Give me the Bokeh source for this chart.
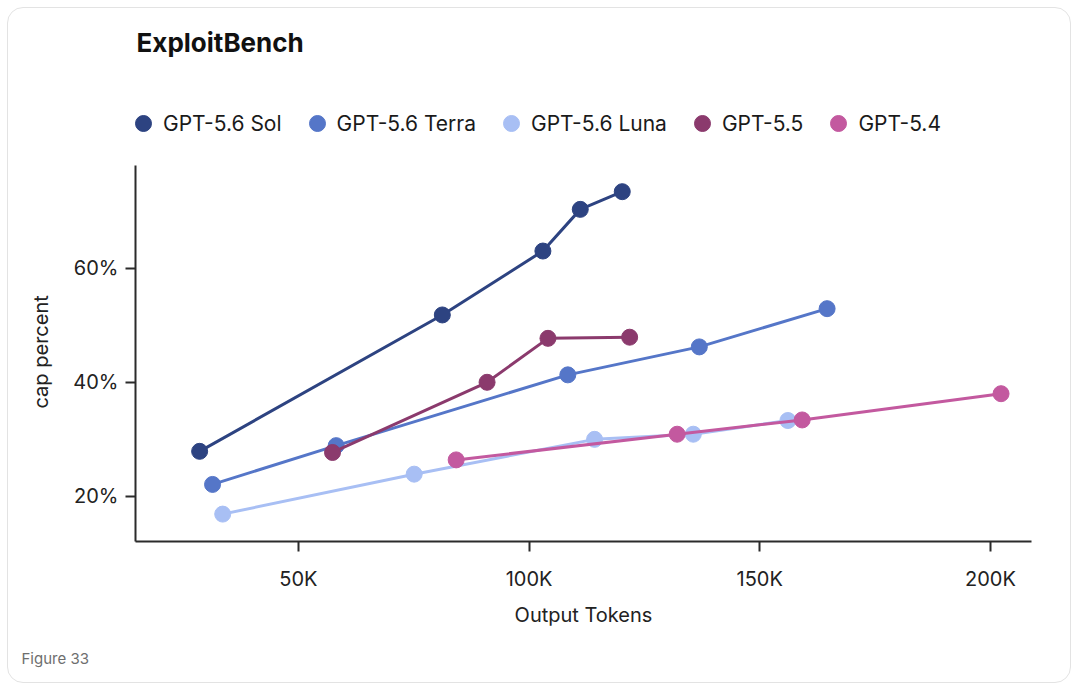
from bokeh.plotting import figure
from bokeh.models import (Legend, LegendItem, Title, Label, FixedTicker, PrintfTickFormatter,
                          CustomJSTickFormatter, ColumnDataSource)
from bokeh.embed import file_html
from bokeh.resources import INLINE

# ---- data ----
series_names = ["GPT-5.6 Sol", "GPT-5.6 Terra", "GPT-5.6 Luna", "GPT-5.5", "GPT-5.4"]
series_colors = ["#2d4381", "#5576c8", "#a8bff4", "#8b3a6d", "#c3599f"]

sol_x = [28600, 81200, 103000, 111100, 120200]
sol_y = [27.9, 51.8, 63.0, 70.3, 73.4]
terra_x = [31400, 58200, 108400, 136900, 164600]
terra_y = [22.1, 28.9, 41.3, 46.2, 52.9]
luna_x = [33600, 75100, 114200, 135600, 156100]
luna_y = [16.9, 23.9, 30.0, 30.9, 33.3]
gpt55_x = [57400, 90900, 104100, 121800]
gpt55_y = [27.7, 40.0, 47.7, 47.9]
gpt54_x = [84200, 132100, 159200, 202300]
gpt54_y = [26.4, 30.9, 33.4, 38.0]

x_ticks = [50000, 100000, 150000, 200000]
y_ticks = [20, 40, 60]
y_axis_extent = (12.1, 78.0)   # the drawn extent of the y axis

title_text = "ExploitBench"
x_label = "Output Tokens"
y_label = "cap percent"
caption = "Figure 33"

series_x = [sol_x, terra_x, luna_x, gpt55_x, gpt54_x]
series_y = [sol_y, terra_y, luna_y, gpt55_y, gpt54_y]

FONT = "Inter"

# the plotting frame reaches up to the top of the card so that the title and
# legend (drawn inside it) are not clipped; the y axis line is bounded.
p = figure(width=1064, height=676, margin=7,
           x_range=(14700, 208900), y_range=(12.1, 105.5),
           output_backend="svg", toolbar_location=None, title_location=None,
           min_border_left=127, min_border_right=41,
           min_border_top=0, min_border_bottom=143)
p.styles = {"border": "1px solid #e3e3e3", "border-radius": "16px", "overflow": "hidden"}
p.background_fill_color = None
p.border_fill_color = None
p.outline_line_color = None
p.xgrid.visible = False
p.ygrid.visible = False

for ax in (p.xaxis, p.yaxis):
    ax.axis_line_width = 2
    ax.axis_line_color = "#2b2b2b"
    ax.major_tick_line_color = "#2b2b2b"
    ax.major_tick_line_width = 2
    ax.major_tick_out = 10
    ax.major_tick_in = 0
    ax.minor_tick_line_color = None
    ax.major_label_text_font = FONT
    ax.major_label_text_font_size = "20px"
    ax.major_label_text_color = "#222222"
    ax.axis_label_text_font = FONT
    ax.axis_label_text_font_size = "20px"
    ax.axis_label_text_font_style = "normal"
    ax.axis_label_text_color = "#222222"

p.xaxis.ticker = FixedTicker(ticks=x_ticks)
p.xaxis.formatter = CustomJSTickFormatter(code="return (tick/1000).toFixed(0) + 'K';")
p.xaxis.axis_label = x_label
p.xaxis.major_label_standoff = 15
p.xaxis.axis_label_standoff = 9

p.yaxis.ticker = FixedTicker(ticks=y_ticks)
p.yaxis.formatter = PrintfTickFormatter(format="%d%%")
p.yaxis.major_label_standoff = 7
p.yaxis.bounds = y_axis_extent

# y axis title, placed along the bounded part of the axis
ytitle = Title(text=y_label, align="left", offset=133, standoff=36,
               text_font=FONT, text_font_size="20px", text_font_style="normal",
               text_color="#222222")
p.add_layout(ytitle, "left")

items = []
for name, color, xs, ys in zip(series_names, series_colors, series_x, series_y):
    src = ColumnDataSource(data=dict(x=xs, y=ys))
    p.line("x", "y", source=src, line_color=color, line_width=3)
    r = p.scatter("x", "y", source=src, size=16, fill_color=color, line_color=color)
    items.append(LegendItem(label=name, renderers=[r]))

legend = Legend(items=items, orientation="horizontal", location=(-12, 398),
                glyph_width=40, glyph_height=40, label_standoff=0, spacing=15,
                padding=0, margin=0, border_line_color=None, background_fill_alpha=0,
                label_text_font=FONT, label_text_font_size="21px",
                label_text_color="#1a1a1a")
p.add_layout(legend, "center")

p.add_layout(Label(x=1, y=499, x_units="screen", y_units="screen", text=title_text,
                   text_font=FONT, text_font_size="26px", text_font_style="bold",
                   text_color="#111111", text_baseline="alphabetic"))

cap = Title(text=caption, align="left", offset=-114, standoff=34,
            text_font=FONT, text_font_size="15px", text_font_style="normal",
            text_color="#6e6e6e")
p.add_layout(cap, "below")

open("out.html", "w").write(file_html(p, INLINE))
